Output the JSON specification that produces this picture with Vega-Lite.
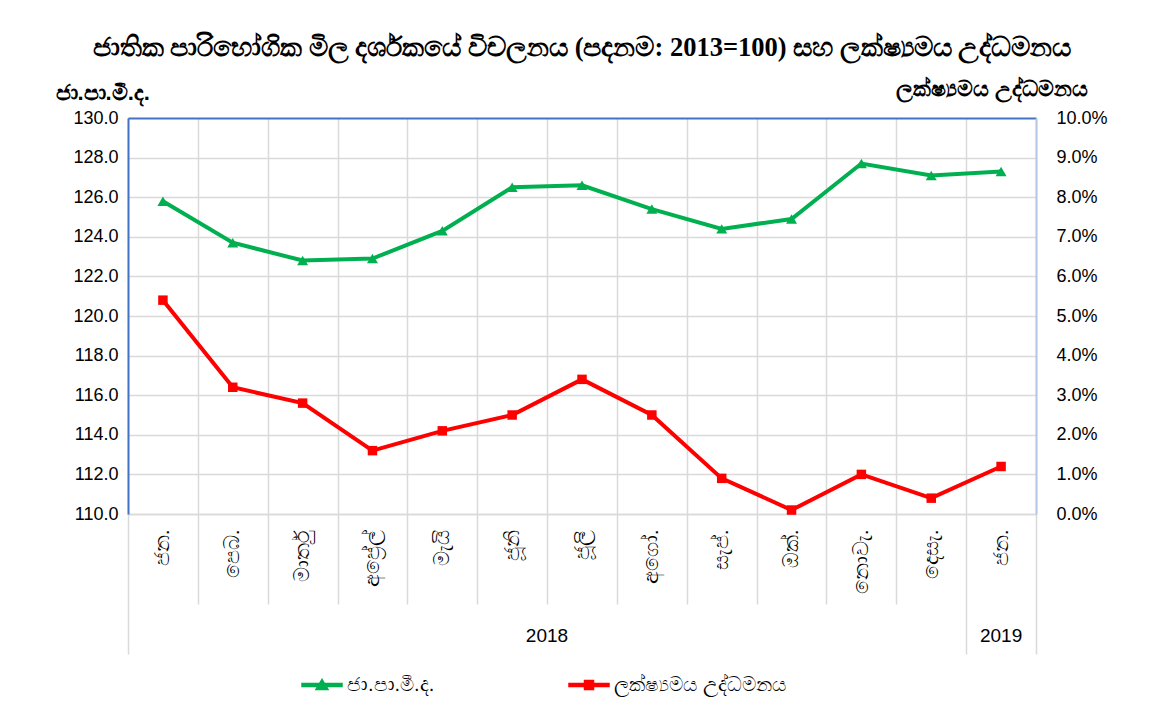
{
  "$schema": "https://vega.github.io/schema/vega-lite/v6.json",
  "width": 908,
  "height": 396,
  "autosize": "none",
  "padding": {"left": 128, "top": 118, "right": 126, "bottom": 196},
  "background": "white",
  "title": {
    "text": "ජාතික පාරිභෝගික මිල දර්ශකයේ විචලනය (පදනම: 2013=100) සහ ලක්ෂ්‍යමය උද්ධමනය",
    "font": "Liberation Serif",
    "fontSize": 26.5,
    "fontWeight": "bold",
    "color": "#000000",
    "anchor": "middle",
    "offset": 16
  },
  "config": {
    "view": {"stroke": null},
    "font": "Liberation Sans",
    "axis": {"labelColor": "#000000", "titleColor": "#000000"}
  },
  "data": {
    "values": [
      {"period": "ජන. 2018", "ccpi": 125.8, "inflation": 0.054},
      {"period": "පෙබ. 2018", "ccpi": 123.7, "inflation": 0.032},
      {"period": "මාර්තු 2018", "ccpi": 122.8, "inflation": 0.028},
      {"period": "අප්‍රේල් 2018", "ccpi": 122.9, "inflation": 0.016},
      {"period": "මැයි 2018", "ccpi": 124.3, "inflation": 0.021},
      {"period": "ජූනි 2018", "ccpi": 126.5, "inflation": 0.025},
      {"period": "ජූලි 2018", "ccpi": 126.6, "inflation": 0.034},
      {"period": "අගෝ. 2018", "ccpi": 125.4, "inflation": 0.025},
      {"period": "සැප්. 2018", "ccpi": 124.4, "inflation": 0.009},
      {"period": "ඔක්. 2018", "ccpi": 124.9, "inflation": 0.001},
      {"period": "නොවැ. 2018", "ccpi": 127.7, "inflation": 0.010},
      {"period": "දෙසැ. 2018", "ccpi": 127.1, "inflation": 0.004},
      {"period": "ජන. 2019", "ccpi": 127.3, "inflation": 0.012}
    ]
  },
  "layer": [
    {
      "mark": {"type": "line", "strokeWidth": 4, "point": {"shape": "triangle-up", "filled": true, "size": 120}},
      "encoding": {
        "x": {
          "field": "period", "type": "nominal", "sort": null,
          "scale": {"type": "band", "paddingInner": 0, "paddingOuter": 0},
          "axis": {
            "orient": "bottom",
            "title": null,
            "labelExpr": "datum.value ? split(datum.value, ' ')[0] : ''",
            "labelAngle": 270,
            "labelFontSize": 21,
            "labelPadding": {"condition": {"test": "indexof(['ජන. 2018','පෙබ. 2018','මාර්තු 2018','අප්‍රේල් 2018','මැයි 2018','ජූනි 2018','ජූලි 2018','අගෝ. 2018','සැප්. 2018','ඔක්. 2018','නොවැ. 2018'], datum.value) >= 0", "value": -75}, "value": -125},
            "tickBand": "extent",
            "tickColor": "#d9d9d9",
            "tickWidth": 1.5,
            "tickSize": {"condition": {"test": "indexof(['ජන. 2018','පෙබ. 2018','මාර්තු 2018','අප්‍රේල් 2018','මැයි 2018','ජූනි 2018','ජූලි 2018','අගෝ. 2018','සැප්. 2018','ඔක්. 2018','නොවැ. 2018'], datum.value) >= 0", "value": 90}, "value": 140},
            "grid": true,
            "gridColor": "#d9d9d9",
            "gridWidth": 1.5,
            "domainColor": "#d9d9d9",
            "domainWidth": 1.5
          }
        },
        "y": {
          "field": "ccpi", "type": "quantitative",
          "scale": {"domain": [110, 130], "zero": false, "nice": false},
          "axis": {
            "orient": "left",
            "values": [110, 112, 114, 116, 118, 120, 122, 124, 126, 128, 130],
            "format": ".1f",
            "labelFontSize": 18,
            "labelPadding": 10,
            "ticks": false,
            "domainColor": "#4472c4",
            "domainWidth": 2,
            "grid": true,
            "gridColor": {"condition": {"test": "datum.value == 130", "value": "#4472c4"}, "value": "#d9d9d9"},
            "gridWidth": {"condition": {"test": "datum.value == 130", "value": 2}, "value": 1.5},
            "title": "ජා.පා.මී.ද.",
            "titleAngle": 0,
            "titleAlign": "left",
            "titleBaseline": "middle",
            "titleX": -73,
            "titleY": -26,
            "titleFontSize": 22,
            "titleFontWeight": "bold"
          }
        },
        "color": {
          "datum": "ජා.පා.මී.ද.",
          "type": "nominal",
          "scale": {"domain": ["ජා.පා.මී.ද.", "ලක්ෂ්‍යමය උද්ධමනය"], "range": ["#00b050", "#ff0000"]},
          "legend": {
            "title": null,
            "orient": "none",
            "legendX": 183,
            "legendY": 556,
            "direction": "horizontal",
            "labelFontSize": 20,
            "labelLimit": 500,
            "labelColor": "#000000",
            "symbolSize": 400,
            "symbolType": {"expr": "datum.value == 'ජා.පා.මී.ද.' ? 'M-2,-0.15H2V0.15H-2Z M-0.6,0.45L0,-0.55L0.6,0.45Z' : 'M-2,-0.15H2V0.15H-2Z M-0.45,-0.45H0.45V0.45H-0.45Z'"},
            "labelOffset": 14,
            "columnPadding": 131
          }
        }
      }
    },
    {
      "mark": {"type": "line", "strokeWidth": 4, "point": {"shape": "square", "filled": true, "size": 90}},
      "encoding": {
        "x": {
          "field": "period", "type": "nominal", "sort": null,
          "scale": {"type": "band", "paddingInner": 0, "paddingOuter": 0},
          "axis": {
            "orient": "bottom",
            "offset": 106,
            "title": null,
            "domain": false,
            "ticks": false,
            "grid": false,
            "labelAngle": 0,
            "labelFont": "Liberation Sans",
            "labelFontSize": 19,
            "labelPadding": 6,
            "labelExpr": "datum.value == 'ජූලි 2018' ? '2018' : (datum.value == 'ජන. 2019' ? '2019' : '')",
            "labelOffset": {"condition": {"test": "datum.value == 'ජූලි 2018'", "value": -35}, "value": 0}
          }
        },
        "y": {
          "field": "inflation", "type": "quantitative",
          "scale": {"domain": [0, 0.1], "nice": false},
          "axis": {
            "orient": "right",
            "values": [0, 0.01, 0.02, 0.03, 0.04, 0.05, 0.06, 0.07, 0.08, 0.09, 0.1],
            "format": ".1%",
            "labelFontSize": 18,
            "labelPadding": 20,
            "ticks": false,
            "grid": false,
            "domainColor": "#b4c7e7",
            "domainWidth": 2,
            "title": "ලක්ෂ්‍යමය උද්ධමනය",
            "titleAngle": 0,
            "titleAlign": "right",
            "titleBaseline": "middle",
            "titleX": 52,
            "titleY": -30,
            "titleFontSize": 22,
            "titleFontWeight": "bold"
          }
        },
        "color": {"datum": "ලක්ෂ්‍යමය උද්ධමනය", "type": "nominal"}
      }
    }
  ],
  "resolve": {"scale": {"x": "independent", "y": "independent"}}
}
